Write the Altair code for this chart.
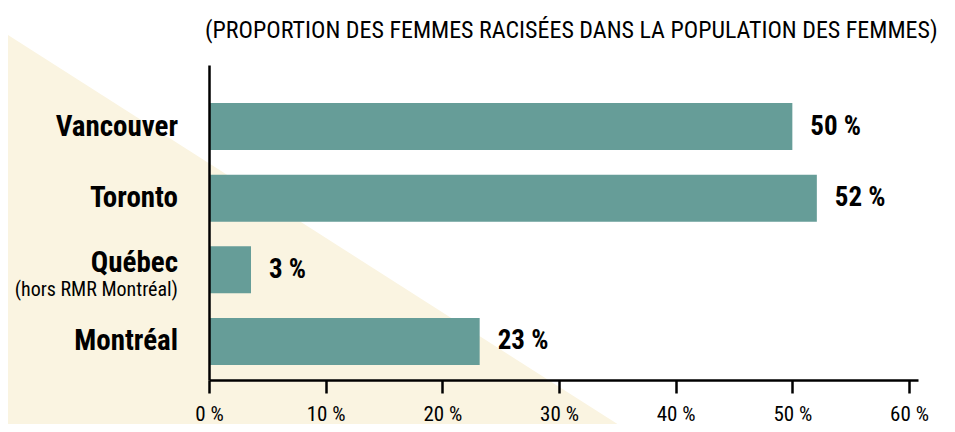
import altair as alt
import pandas as pd

# Data
villes = ["Vancouver", "Toronto", "Québec", "Montréal"]
valeurs = [50.0, 52.1, 3.6, 23.2]
etiquettes = ["50 %", "52 %", "3 %", "23 %"]
sous_titre_ville = ["Québec"]
sous_titre_texte = ["(hors RMR Montréal)"]
ticks = [0, 10, 20, 30, 40, 50, 60]
titre = ["(PROPORTION DES FEMMES RACISÉES DANS LA POPULATION DES FEMMES)"]

# Decorative background triangle (pixel space of the plot area)
deco_x = [-209, 421]
deco_y = [-35, 367]
deco_y2 = [367, 367]

W, H = 709, 315
FONT = "Roboto Condensed, Roboto, sans-serif"
TEAL = "#669D98"
CREAM = "#FAF4E1"

df = pd.DataFrame({"ville": villes, "valeur": valeurs, "etiquette": etiquettes})
deco = pd.DataFrame({"x": deco_x, "y": deco_y, "y2": deco_y2})
sub = pd.DataFrame({"ville": sous_titre_ville, "texte": sous_titre_texte})
tdf = pd.DataFrame({"t": titre})

tri = alt.Chart(deco).mark_area(color=CREAM, clip=False).encode(
    x=alt.X("x:Q", scale=alt.Scale(domain=[0, W], nice=False, zero=False), axis=None),
    y=alt.Y("y:Q", scale=alt.Scale(domain=[0, H], nice=False, zero=False, reverse=True), axis=None),
    y2="y2:Q",
)

yscale = alt.Scale(domain=villes, paddingInner=0.344, paddingOuter=0.37, align=0.717)
xscale = alt.Scale(domain=[0, 60.77], nice=False)

bars = alt.Chart(df).mark_bar(color=TEAL).encode(
    x=alt.X("valeur:Q", scale=xscale,
            axis=alt.Axis(values=ticks, labelExpr="datum.value + ' %'", title=None,
                          grid=False, domainColor="black", domainWidth=2.5,
                          tickColor="black", tickWidth=2.5, tickSize=13,
                          labelFont=FONT, labelFontSize=21, labelColor="black",
                          labelPadding=10, labelFlush=False, zindex=1)),
    y=alt.Y("ville:N", scale=yscale, sort=villes,
            axis=alt.Axis(labels=False, ticks=False, title=None, grid=False,
                          domainColor="black", domainWidth=2.5, zindex=1)),
)

vals = alt.Chart(df).mark_text(align="left", baseline="middle", dx=18,
                               font=FONT, fontSize=27, fontWeight="bold",
                               color="black").encode(
    x=alt.X("valeur:Q", scale=xscale),
    y=alt.Y("ville:N", scale=yscale, sort=villes),
    text="etiquette:N",
)

noms = alt.Chart(df).transform_filter(
    alt.FieldOneOfPredicate(field="ville", oneOf=[v for v in villes if v not in sous_titre_ville])
).mark_text(align="right", baseline="middle", font=FONT, fontSize=29,
            fontWeight="bold", color="black").encode(
    x=alt.value(-31),
    y=alt.Y("ville:N", scale=yscale, sort=villes),
    text="ville:N",
)

nom_sub = alt.Chart(sub).mark_text(align="right", baseline="middle", dy=-7,
                                   font=FONT, fontSize=29, fontWeight="bold",
                                   color="black").encode(
    x=alt.value(-31),
    y=alt.Y("ville:N", scale=yscale, sort=villes),
    text="ville:N",
)

sub_txt = alt.Chart(sub).mark_text(align="right", baseline="middle", dy=20,
                                   font=FONT, fontSize=20, color="black").encode(
    x=alt.value(-31),
    y=alt.Y("ville:N", scale=yscale, sort=villes),
    text="texte:N",
)

title_txt = alt.Chart(tdf).mark_text(align="left", baseline="middle", font=FONT,
                                     fontSize=24, color="black").encode(
    x=alt.value(-4), y=alt.value(-34), text="t:N",
)

main = alt.layer(bars, vals, noms, nom_sub, sub_txt, title_txt)

chart = alt.layer(tri, main).resolve_scale(x="independent", y="independent").properties(
    width=W, height=H,
    autosize=alt.AutoSizeParams(type="none"),
    padding={"left": 201, "top": 57, "right": 29, "bottom": 44},
).configure_view(stroke=None, strokeWidth=0)

chart.save("out.html", embed_options={"renderer": "svg", "actions": False})
